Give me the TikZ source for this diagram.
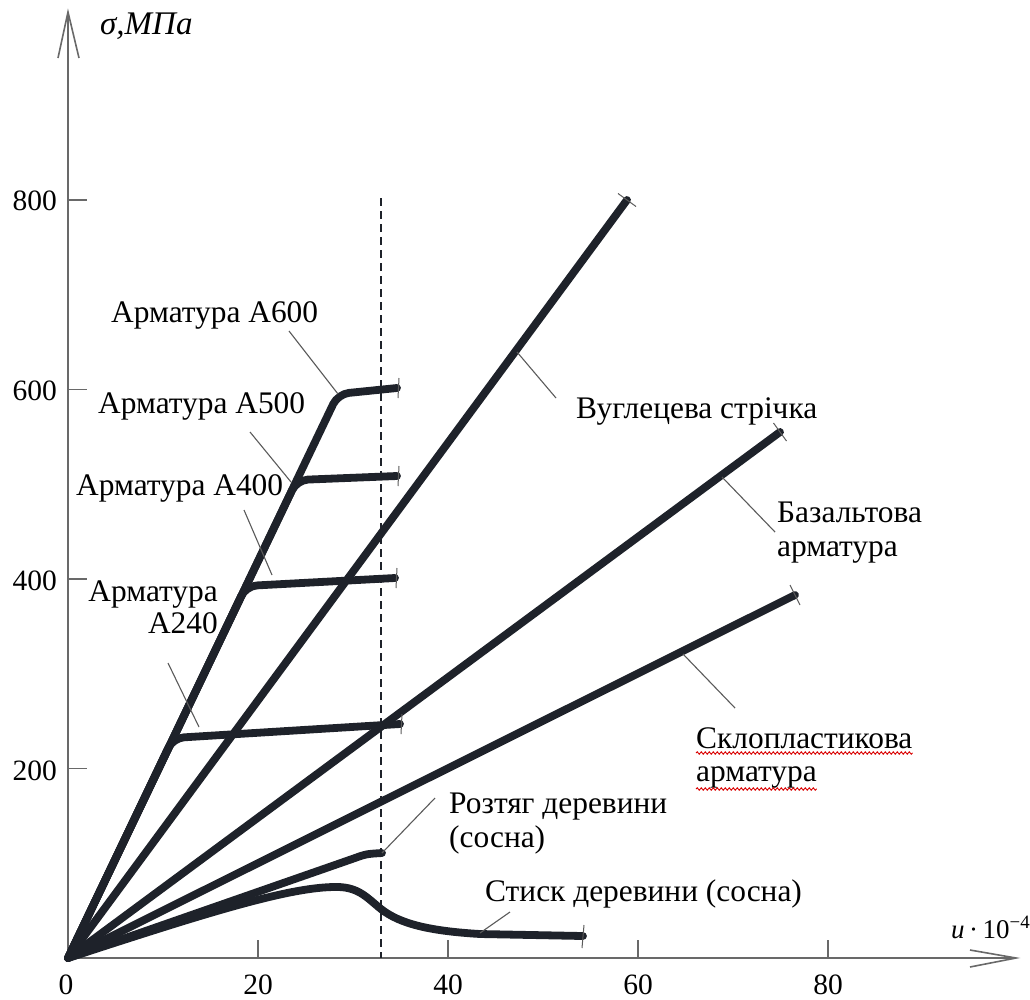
\documentclass[tikz,border=0pt]{standalone}
\usepackage{fontspec}
\setmainfont{Liberation Serif}
\usetikzlibrary{decorations.pathmorphing,calc}
\definecolor{crv}{RGB}{30,34,42}
\definecolor{axg}{RGB}{105,105,105}
\definecolor{ldr}{RGB}{90,90,90}
\begin{document}
\begin{tikzpicture}[x=1pt,y=-1pt,
  curve/.style={line width=7.8pt, draw=crv, line cap=round, line join=round},
  axis/.style={line width=1.6pt, draw=axg},
  tickline/.style={line width=1.4pt, draw=axg},
  endtick/.style={line width=1pt, draw=ldr},
  leader/.style={line width=1.1pt, draw=ldr},
  dashline/.style={line width=1.1pt, draw=crv, dash pattern=on 8pt off 5pt},
  lbl/.style={inner sep=0pt, font=\fontsize{31.4}{34}\selectfont},
  num/.style={inner sep=0pt, font=\fontsize{29.5}{32}\selectfont},
  squig/.style={draw=red!85!black, line width=0.9pt, decorate,
    decoration={snake, amplitude=1.2pt, segment length=4pt}}
]
\useasboundingbox (0,0) rectangle (1030,999);

\coordinate (O) at (68,958);

% axes
\draw[axis] (O) -- (68,12) coordinate (ytip);
\draw[axis] (58,58) -- (ytip) -- (79,58);
\draw[axis] (O) -- (1016,958) coordinate (xtip);
\draw[axis] (970,950) -- (xtip) -- (970,967);

% ticks
\foreach \yy in {200,389.5,579,768.5} \draw[tickline] (68,\yy) -- (87,\yy);
\foreach \xx in {258,448,638,828} \draw[tickline] (\xx,958) -- (\xx,940);

% tick labels
\node[num, anchor=base east] (t800) at (57,210) {800};
\node[num, anchor=base east] (t600) at (57,400) {600};
\node[num, anchor=base east] (t400) at (57,590) {400};
\node[num, anchor=base east] (t200) at (57,780) {200};
\node[num, anchor=base] (x0) at (66,994) {0};
\node[num, anchor=base] (x20) at (258,994) {20};
\node[num, anchor=base] (x40) at (448,994) {40};
\node[num, anchor=base] (x60) at (638,994) {60};
\node[num, anchor=base] (x80) at (828,994) {80};

% axis titles
\node[inner sep=0pt, anchor=base west, font=\fontsize{33}{36}\selectfont\itshape] (ylab) at (100,34) {σ,МПа};
\node[inner sep=0pt, anchor=base west, font=\fontsize{27}{30}\selectfont] (xlab) at (951,938) {\textit{u}\,·\,10\textsuperscript{−4}};

% dashed limit line
\draw[dashline] (381,198) -- (381,958);

% straight composite lines
\draw[curve] (O) -- (627,200) coordinate (cEnd);
\draw[curve] (O) -- (780,432) coordinate (bEnd);
\draw[curve] (O) -- (795,595) coordinate (gEnd);

% steel rebars
\draw[curve, rounded corners=11pt] (O) -- (338,394) coordinate (k600) -- (397,388) coordinate (r600);
\draw[curve, rounded corners=11pt] (O) -- (297,480) coordinate (k500) -- (397,476) coordinate (r500);
\draw[curve, rounded corners=11pt] (O) -- (246,586) coordinate (k400) -- (395,578) coordinate (r400);
\draw[curve, rounded corners=11pt] (O) -- (173,738) coordinate (k240) -- (400,724) coordinate (r240);

% wood
\draw[curve] (O) -- (355,858) .. controls (366,854) .. (382,853) coordinate (wt);
\draw[curve] (O) .. controls (200,915) and (285,888) .. (333,887)
  .. controls (358,886) and (366,897) .. (381,909)
  .. controls (400,924) and (430,931) .. (480,934) -- (583,936) coordinate (wc);

% end ticks
\draw[endtick] (618,193.5) -- (636,206.5);
\draw[endtick] (773.5,423) -- (786.5,441);
\draw[endtick] (790,585) -- (800,605);
\draw[endtick] (399,378) -- (398,398);
\draw[endtick] (399,466) -- (398,486);
\draw[endtick] (397,568) -- (396,588);
\draw[endtick] (402,714) -- (401,734);
\draw[endtick] (584,925) -- (582,948);

% labels
\node[lbl, anchor=base west] (l600) at (111,322) {Арматура А600};
\node[lbl, anchor=base west] (l500) at (98,413) {Арматура А500};
\node[lbl, anchor=base west] (l400) at (76,495) {Арматура А400};
\node[lbl, anchor=base east] (l240a) at (218,601) {Арматура};
\node[lbl, anchor=base east] (l240b) at (218,633) {А240};
\node[lbl, anchor=base west] (lc) at (576,418) {Вуглецева стрічка};
\node[lbl, anchor=base west] (lb1) at (777,522) {Базальтова};
\node[lbl, anchor=base west] (lb2) at (777,556) {арматура};
\node[lbl, anchor=base west] (lg1) at (696,748) {Склопластикова};
\node[lbl, anchor=base west] (lg2) at (696,781) {арматура};
\node[lbl, anchor=base west] (lt1) at (449,813) {Розтяг деревини};
\node[lbl, anchor=base west] (lt2) at (449,847) {(сосна)};
\node[lbl, anchor=base west] (ls) at (485,901) {Стиск деревини (сосна)};

% spell-check underline
\draw[squig] ($(lg1.base west)+(0,5)$) -- ($(lg1.base east)+(0,5)$);
\draw[squig] ($(lg2.base west)+(0,8)$) -- ($(lg2.base east)+(0,8)$);

% leaders
\coordinate (a600) at (289,331);
\coordinate (a500) at (250,432);
\coordinate (a400) at (244,510);
\coordinate (a240) at (168,663);
\draw[leader] (a600) -- (k600);
\draw[leader] (a500) -- ($(k500)+(-6,2)$);
\draw[leader] (a400) -- (272,575);
\draw[leader] (a240) -- (199,727);
\draw[leader] (517,352) -- (556,398);
\draw[leader] (722,477) -- (775,532);
\draw[leader] (683,654) -- (735,708);
\draw[leader] (wt) -- (435,798);
\draw[leader] (480,933) -- (510,912);
\end{tikzpicture}
\end{document}
